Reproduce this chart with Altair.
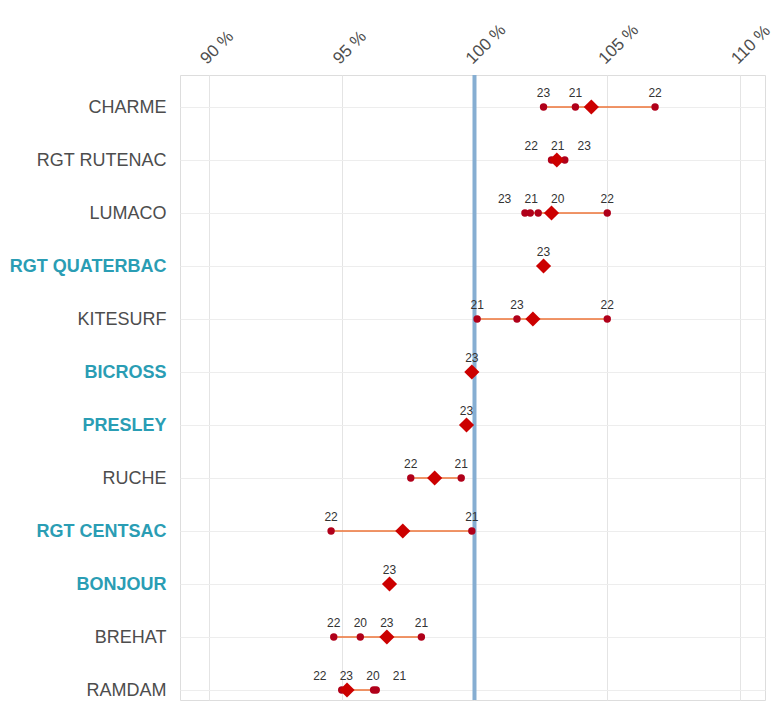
import altair as alt
import pandas as pd

# ---- data ----
varieties = ["CHARME", "RGT RUTENAC", "LUMACO", "RGT QUATERBAC", "KITESURF", "BICROSS",
             "PRESLEY", "RUCHE", "RGT CENTSAC", "BONJOUR", "BREHAT", "RAMDAM"]
highlighted = ["RGT QUATERBAC", "BICROSS", "PRESLEY", "RGT CENTSAC", "BONJOUR"]
overall_values = [104.4, 103.1, 102.9, 102.6, 102.2, 99.9, 99.7, 98.5, 97.3, 96.8, 96.7, 95.2]

obs_variety = ["CHARME", "CHARME", "CHARME",
               "RGT RUTENAC", "RGT RUTENAC", "RGT RUTENAC",
               "LUMACO", "LUMACO", "LUMACO", "LUMACO",
               "RGT QUATERBAC",
               "KITESURF", "KITESURF", "KITESURF",
               "BICROSS", "PRESLEY",
               "RUCHE", "RUCHE",
               "RGT CENTSAC", "RGT CENTSAC",
               "BONJOUR",
               "BREHAT", "BREHAT", "BREHAT", "BREHAT",
               "RAMDAM", "RAMDAM", "RAMDAM", "RAMDAM"]
obs_year = ["23", "21", "22",
            "22", "21", "23",
            "23", "21", "20", "22",
            "23",
            "21", "23", "22",
            "23", "23",
            "22", "21",
            "22", "21",
            "23",
            "22", "20", "23", "21",
            "22", "23", "20", "21"]
obs_value = [102.6, 103.8, 106.8,
             102.9, 103.1, 103.4,
             101.9, 102.1, 102.4, 105.0,
             102.6,
             100.1, 101.6, 105.0,
             99.9, 99.7,
             97.6, 99.5,
             94.6, 99.9,
             96.8,
             94.7, 95.7, 96.7, 98.0,
             95.0, 95.2, 96.2, 96.3]
ref_value = [100]
x_ticks = [90, 95, 100, 105, 110]

# ---- tables ----
row_of = {v: i + 1 for i, v in enumerate(varieties)}
obs = pd.DataFrame({"variety": obs_variety, "year": obs_year, "value": obs_value})
obs["row"] = obs["variety"].map(row_of)

# simple label de-overlap (like a repel) along x, within each row
def spread(vals, gap=1.0, iters=200):
    order = sorted(range(len(vals)), key=lambda i: vals[i])
    pos = [vals[i] for i in order]
    for _ in range(iters):
        moved = False
        for k in range(len(pos) - 1):
            d = pos[k + 1] - pos[k]
            if d < gap - 1e-6:
                s = (gap - d) / 2
                pos[k] -= s
                pos[k + 1] += s
                moved = True
        if not moved:
            break
    out = [0.0] * len(vals)
    for k, i in enumerate(order):
        out[i] = pos[k]
    return out

obs["label_x"] = 0.0
for v, g in obs.groupby("variety"):
    obs.loc[g.index, "label_x"] = spread(list(g["value"]))

overall = pd.DataFrame({"variety": varieties, "value": overall_values})
overall["row"] = overall["variety"].map(row_of)
ref = pd.DataFrame({"value": ref_value})

W, H = 585, 625
x_scale = alt.Scale(domain=[88.91, 110.94], nice=False, zero=False)
y_scale = alt.Scale(domain=[0.396, 1 + (H - 32) / 53.0], nice=False, zero=False, reverse=True)

hl_rows = [row_of[v] for v in highlighted]
names_js = "[''," + ",".join("'" + v + "'" for v in varieties) + "]"
test = "indexof([" + ",".join(str(r) for r in hl_rows) + "], datum.value) >= 0"

x_axis = alt.Axis(orient="top", values=x_ticks, labelExpr="datum.value + ' %'",
                  labelAngle=-45, labelAlign="left", labelBaseline="middle",
                  labelPadding=14, labelOffset=-6, ticks=False, domain=False,
                  labelFontSize=17, labelColor="#4D4D4D", labelFont="Liberation Sans",
                  labelOverlap=False, labelFlush=False, labelBound=False,
                  grid=True, gridColor="#E4E4E4", gridWidth=1,
                  minExtent=62, maxExtent=62, title=None)
y_axis = alt.Axis(values=list(range(1, len(varieties) + 1)),
                  labelExpr=names_js + "[datum.value]",
                  labelColor={"condition": {"test": test, "value": "#2A9DB4"}, "value": "#4D4D4D"},
                  labelFontWeight={"condition": {"test": test, "value": "bold"}, "value": "normal"},
                  labelFontSize=18, labelFont="Liberation Sans", labelPadding=14,
                  ticks=False, domain=False, grid=True, gridColor="#EDEDED", gridWidth=1,
                  labelOverlap=False, labelFlush=False, labelBound=False,
                  minExtent=172, maxExtent=172, title=None)

base_x = alt.X("value:Q", scale=x_scale, axis=x_axis)
base_y = alt.Y("row:Q", scale=y_scale, axis=y_axis)

refline = alt.Chart(ref).mark_rule(color="#86AED2", strokeWidth=4).encode(
    x=alt.X("value:Q", scale=x_scale, axis=x_axis), y=alt.value(0), y2=alt.value(H))

segments = alt.Chart(obs).mark_rule(color="#EC7236", strokeWidth=1.6).encode(
    x=alt.X("min(value):Q", scale=x_scale, axis=x_axis),
    x2="max(value):Q",
    y=alt.Y("row:Q", scale=y_scale, axis=y_axis))

points = alt.Chart(obs).mark_circle(color="#B0001A", opacity=1, size=55).encode(
    x=base_x, y=base_y)

diamonds = alt.Chart(overall).mark_point(shape="diamond", filled=True, color="#CC0000",
                                        opacity=1, size=230).encode(x=base_x, y=base_y)

labels = alt.Chart(obs).mark_text(fontSize=12, color="#333333", dy=-14,
                                  font="Liberation Sans").encode(
    x=alt.X("label_x:Q", scale=x_scale, axis=x_axis), y=base_y, text="year:N")

chart = alt.layer(refline, segments, points, diamonds, labels).properties(
    width=W, height=H,
    padding={"left": 0, "top": 5, "right": 0, "bottom": 0},
).configure_view(stroke="#F0F0F0", strokeWidth=1).configure(background="white")

chart.save("out.html", embed_options={"renderer": "svg", "actions": False})
